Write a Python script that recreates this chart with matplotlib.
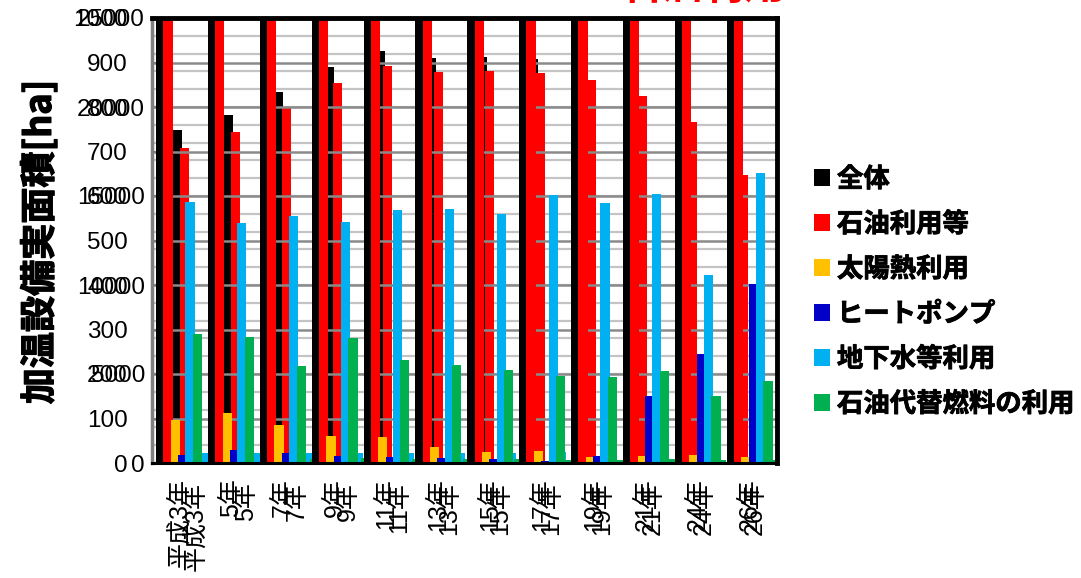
import numpy as np
import matplotlib.pyplot as plt
import matplotlib.patheffects as pe
from matplotlib.patches import Patch

plt.rcParams['font.family'] = ['Liberation Sans', 'Noto Sans CJK JP']

years = ['平成3年', '5年', '7年', '9年', '11年', '13年', '15年', '17年', '19年', '21年', '24年', '26年']
series = ['全体', '石油利用等', '太陽熱利用', 'ヒートポンプ', '地下水等利用', '石油代替燃料の利用']
colors = ['#000000', '#ff0000', '#ffc000', '#0000c8', '#00b0f0', '#00b050']

# area [ha]
total = [18700, 19550, 20830, 22230, 23160, 22780, 22830, 22700, 22300, 21700, 20300, 17900]
oil = [17710, 18600, 19930, 21330, 22300, 21980, 22040, 21890, 21520, 20620, 19170, 16180]
solar = [97, 112, 85, 61, 59, 36, 25, 27, 13, 16, 18, 13]
heatpump = [18, 29, 23, 16, 14, 11, 9, 4, 16, 151, 245, 402]
groundwater = [587, 540, 556, 542, 569, 571, 560, 602, 584, 604, 422, 652]
altfuel = [290, 284, 219, 281, 231, 220, 209, 196, 193, 207, 151, 184]

data = [total, oil, solar, heatpump, groundwater, altfuel]

W, H = 1081, 578
fig = plt.figure(figsize=(W / 100, H / 100), dpi=100)


def box(l, t, r, b):
    return [l / W, 1 - b / H, (r - l) / W, (b - t) / H]


x = np.arange(len(years))
step = 0.1417
width = 0.177
heavy = [pe.withStroke(linewidth=0.9, foreground='black')]

# light grid behind everything
axbg = fig.add_axes(box(152, 18, 777, 463))
axbg.set_ylim(0, 1000)
axbg.set_xlim(0, 1)
axbg.set_yticks(np.arange(0, 1001, 40))
axbg.set_xticks([])
axbg.tick_params(left=False, labelleft=False)
axbg.grid(axis='y', color='#c4c4c4', lw=1.6)
for s in axbg.spines.values():
    s.set_visible(False)

# secondary chart, 0-25000 ha
ax2 = fig.add_axes(box(169.9, 18, 779.9, 463))
ax2.patch.set_visible(False)
ax2.set_ylim(0, 25000)
ax2.set_xlim(-0.5, 11.5)
for k, vals in enumerate(data):
    ax2.bar(x + (k - 2.5) * step, vals, width, color=colors[k], linewidth=0)
ax2.set_yticks(np.arange(0, 25001, 5000))
ax2.set_yticklabels([str(v) for v in range(0, 25001, 5000)], fontsize=17.5)
ax2.tick_params(axis='y', length=0, pad=17.9)
ax2.set_xticks(x)
ax2.set_xticklabels(years, rotation=90, fontsize=18)
ax2.tick_params(axis='x', length=0, pad=14)
for s in ax2.spines.values():
    s.set_visible(False)

# primary chart, 0-1000 ha
ax = fig.add_axes(box(152, 18, 777, 463))
ax.patch.set_visible(False)
ax.set_ylim(0, 1000)
ax.set_xlim(-0.5205, 11.529)
ax.set_axisbelow(True)
ax.grid(axis='y', color='#8a8a8a', lw=1.8)
for k, vals in enumerate(data):
    ax.bar(x + (k - 2.5) * step, vals, width, color=colors[k], linewidth=0)
ax.set_yticks(np.arange(0, 1001, 100))
ax.set_yticklabels([str(v) for v in range(0, 1001, 100)], fontsize=17.5)
ax.tick_params(axis='y', direction='in', length=5, width=1.5, color='#808080', pad=17.3)
ax.set_xticks(x)
ax.set_xticklabels(years, rotation=90, fontsize=18)
ax.tick_params(axis='x', length=0, pad=11)
ax.spines['top'].set_linewidth(3.5)
ax.spines['right'].set_linewidth(3.5)
ax.spines['left'].set_color('#808080')
ax.spines['left'].set_linewidth(2.5)
ax.spines['bottom'].set_linewidth(2.2)

fig.text(40 / W, 1 - 242 / H, '加温設備実面積[ha]', rotation=90, ha='center', va='center',
         fontsize=26, fontweight='bold', family=['Noto Sans CJK JP'], path_effects=heavy)

fig.text(703 / W, 1 + 1 / H, '石油利用', ha='center', va='baseline', color='#ff0000',
         fontsize=30, fontweight='bold', family=['Noto Sans CJK JP'])

handles = [Patch(facecolor=c, edgecolor='none') for c in colors]
leg = fig.legend(handles, series, loc='upper left', bbox_to_anchor=(814 / W, 1 - 166 / H),
                 frameon=False, prop={'family': 'Noto Sans CJK JP', 'weight': 'bold', 'size': 19},
                 handlelength=0.62, handleheight=0.62, handletextpad=0.25, labelspacing=0.68,
                 borderaxespad=0, borderpad=0)
for t in leg.get_texts():
    t.set_path_effects([pe.withStroke(linewidth=0.6, foreground='black')])

fig.savefig('out.png', dpi=100)
